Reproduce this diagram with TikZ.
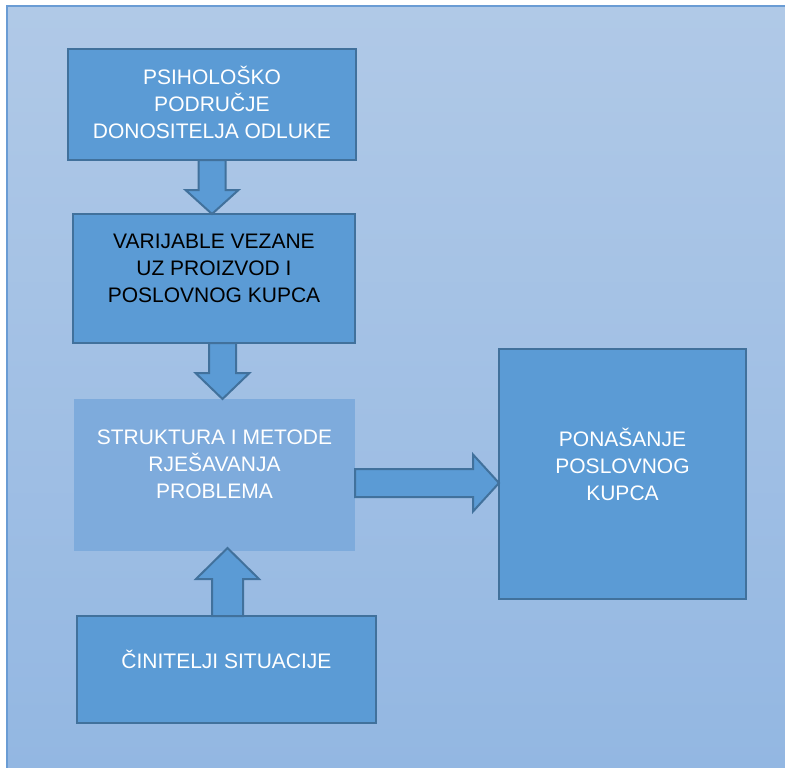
\documentclass[tikz,border=0pt]{standalone}
\usepackage{fontspec}
\setmainfont{Liberation Sans}
\usepackage{tikz}
\usetikzlibrary{calc}
\definecolor{ispuna}{HTML}{5B9BD5}
\definecolor{rub}{HTML}{41719C}
\definecolor{svijetla}{HTML}{7EABDC}
\definecolor{pozgore}{HTML}{B0C9E7}
\definecolor{pozdolje}{HTML}{93B7E2}
\definecolor{rubpoz}{HTML}{6A9CD4}
\tikzstyle{plavo} = [rectangle, draw=rub, fill=ispuna, line width=2pt, inner sep=0pt, outer sep=0pt, anchor=north west]
\tikzstyle{svjetlo} = [rectangle, draw=none, fill=svijetla, inner sep=0pt, outer sep=0pt, anchor=north west]
\tikzstyle{tekst} = [align=center, text=white, font=\fontsize{21}{27}\selectfont]
\tikzstyle{strelica} = [draw=rub, fill=ispuna, line width=2pt, line join=miter]

\begin{document}
\begin{tikzpicture}[x=1pt, y=1pt]

        \useasboundingbox (0,0) rectangle (785,-768);
        \shade[top color=pozgore, bottom color=pozdolje] (7,-6) rectangle (785,-768);
        \draw[rubpoz, line width=1.5pt] (785,-6) -- (7,-6) -- (7,-768);

        \node (PS) [plavo, minimum width=288, minimum height=111] at (68,-49) {};
        \node (VAR) [plavo, minimum width=282, minimum height=129] at (73,-214) {};
        \node (STR) [svjetlo, minimum width=281, minimum height=152] at (74,-399) {};
        \node (PON) [plavo, minimum width=247, minimum height=250] at (499,-349) {};
        \node (CIN) [plavo, minimum width=299, minimum height=107] at (77,-616) {};

        \node (PSt) [tekst] at ($(PS.center)+(0,2)$) {PSIHOLOŠKO\\PODRUČJE\\DONOSITELJA ODLUKE};
        \node (VARt) [tekst, text=black] at ($(VAR.center)+(0,10)$) {VARIJABLE VEZANE\\UZ PROIZVOD I\\POSLOVNOG KUPCA};
        \node (STRt) [tekst] at ($(STR.center)+(0,11)$) {STRUKTURA I METODE\\RJEŠAVANJA\\PROBLEMA};
        \node (PONt) [tekst] at ($(PON.center)+(0,10)$) {PONAŠANJE\\POSLOVNOG\\KUPCA};
        \node (CINt) [tekst] at ($(CIN.center)+(0,10)$) {ČINITELJI SITUACIJE};

        \coordinate (a1) at (PS.south);
        \coordinate (a2) at ($(VAR.south)+(8.5,0)$);
        \coordinate (a3) at ($(STR.east)+(0,-8)$);
        \coordinate (a4) at ($(CIN.north)+(1,0)$);

        \draw[strelica] ($(a1)+(-13.5,0)$) -- ($(a1)+(-13.5,-30)$) -- ($(a1)+(-26.5,-30)$) -- (a1 |- VAR.north) -- ($(a1)+(26.5,-30)$) -- ($(a1)+(13.5,-30)$) -- ($(a1)+(13.5,0)$) -- cycle;
        \draw[strelica] ($(a2)+(-13.5,0)$) -- ($(a2)+(-13.5,-30)$) -- ($(a2)+(-27,-30)$) -- (a2 |- STR.north) -- ($(a2)+(27,-30)$) -- ($(a2)+(13.5,-30)$) -- ($(a2)+(13.5,0)$) -- cycle;
        \draw[strelica] ($(a3)+(0,14)$) -- ($(a3)+(118,14)$) -- ($(a3)+(118,28.5)$) -- (a3 -| PON.west) -- ($(a3)+(118,-28.5)$) -- ($(a3)+(118,-14)$) -- ($(a3)+(0,-14)$) -- cycle;
        \draw[strelica] ($(a4)+(-15.5,0)$) -- ($(a4)+(-15.5,37)$) -- ($(a4)+(-31.5,37)$) -- ($(a4 |- STR.south)+(0,3)$) -- ($(a4)+(31.5,37)$) -- ($(a4)+(15.5,37)$) -- ($(a4)+(15.5,0)$) -- cycle;

    \end{tikzpicture}
\end{document}
